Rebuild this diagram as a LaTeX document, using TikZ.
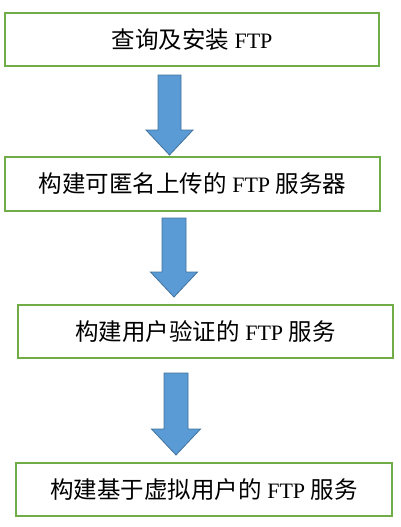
\documentclass[tikz,border=0pt]{standalone}
\usepackage{fontspec}
\setmainfont{Liberation Serif}
\newfontfamily\cjk{Noto Sans CJK SC}
\usetikzlibrary{calc}
\definecolor{boxgreen}{RGB}{112,173,71}
\definecolor{arrowblue}{RGB}{91,155,213}
\definecolor{arrowedge}{RGB}{65,113,156}
\tikzset{
  stepbox/.style={draw=boxgreen, line width=1.6pt, fill=white, rectangle,
    inner sep=0pt, font=\fontsize{22}{26}\selectfont},
  blockarrow/.style={fill=arrowblue, draw=arrowedge, line width=0.8pt, line join=miter}
}
\newcommand{\blockarr}[6]{% cx, shaft half, head half, top, headtop, tip
  \draw[blockarrow] (#1-#2,#4) -- (#1+#2,#4) -- (#1+#2,#5) -- (#1+#3,#5)
    -- (#1,#6) -- (#1-#3,#5) -- (#1-#2,#5) -- cycle;}
\begin{document}
\begin{tikzpicture}[x=1pt,y=-1pt]
\useasboundingbox (0,0) rectangle (400,527);
\node[stepbox, minimum width=374pt, minimum height=53pt] (b1) at (192,39.5)
  {{\cjk\fontsize{23.5}{26}\selectfont 查询及安装} FTP};
\node[stepbox, minimum width=375pt, minimum height=54pt] (b2) at (192.5,184)
  {{\cjk\fontsize{23.5}{26}\selectfont 构建可匿名上传的} FTP {\cjk\fontsize{23.5}{26}\selectfont 服务器}};
\node[stepbox, minimum width=375pt, minimum height=53pt] (b3) at (205.5,331.5)
  {{\cjk\fontsize{23.5}{26}\selectfont 构建用户验证的} FTP {\cjk\fontsize{23.5}{26}\selectfont 服务}};
\node[stepbox, minimum width=376pt, minimum height=53pt] (b4) at (204,489.5)
  {{\cjk\fontsize{23.5}{26}\selectfont 构建基于虚拟用户的} FTP {\cjk\fontsize{23.5}{26}\selectfont 服务}};
\blockarr{169.5}{11.5}{23.5}{75}{130}{155}
\blockarr{174}{12}{23.5}{218}{272}{297}
\blockarr{176}{12}{24.5}{373}{429}{455}
\end{tikzpicture}
\end{document}
